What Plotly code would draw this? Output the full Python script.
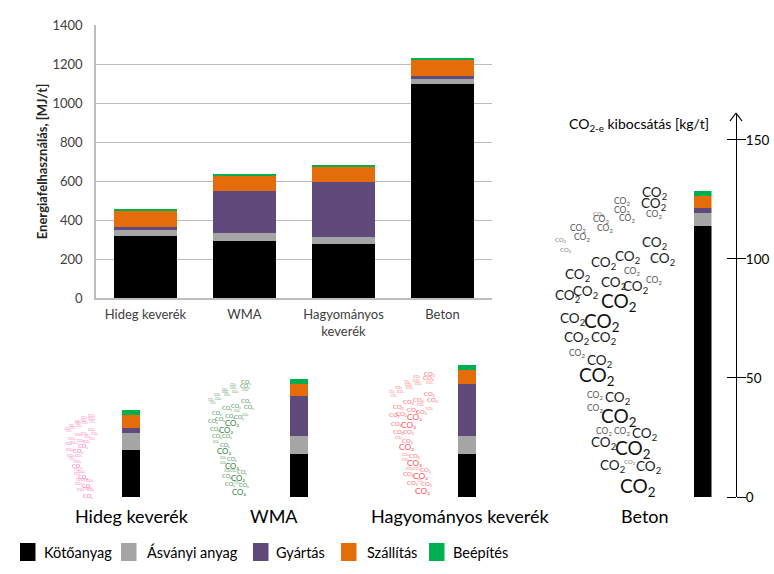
import plotly.graph_objects as go

WIDTH, HEIGHT = 774, 574
FONT = "Lato"

series_names = ["Kötőanyag", "Ásványi anyag", "Gyártás", "Szállítás", "Beépítés"]
series_colors = ["#000000", "#A5A5A5", "#604A7B", "#E46C0A", "#00B050"]

categories = ["Hideg keverék", "WMA", "Hagyományos<br>keverék", "Beton"]
energy_kotoanyag = [316, 294, 277, 1097]
energy_asvanyi = [34, 39, 37, 28]
energy_gyartas = [16, 214, 279, 13]
energy_szallitas = [83, 82, 77, 86]
energy_beepites = [5, 7, 11, 5]
energy_ticks = [0, 200, 400, 600, 800, 1000, 1200, 1400]

co2_kotoanyag = [19.7, 18.0, 18.0, 113.9]
co2_asvanyi = [7.1, 7.5, 7.5, 5.5]
co2_gyartas = [2.2, 16.8, 21.8, 2.1]
co2_szallitas = [5.4, 5.0, 5.9, 5.0]
co2_beepites = [2.1, 2.1, 2.1, 2.1]
co2_ticks = [0, 50, 100, 150]
mix_labels = ["Hideg keverék", "WMA", "Hagyományos keverék", "Beton"]

energy = [energy_kotoanyag, energy_asvanyi, energy_gyartas, energy_szallitas, energy_beepites]
co2 = [co2_kotoanyag, co2_asvanyi, co2_gyartas, co2_szallitas, co2_beepites]

def px(x):
    return x / WIDTH

def py(y):
    return 1 - y / HEIGHT

fig = go.Figure()

# main energy chart
for name, color, vals in zip(series_names, series_colors, energy):
    fig.add_bar(x=categories, y=vals, name=name, width=0.64, xaxis="x", yaxis="y",
                marker=dict(color=color, line=dict(width=0)), showlegend=False)

# CO2 bars: one narrow x axis each, sharing the CO2 value axis
mini_axes = ["x2", "x3", "x4", "x5"]
for i, ax in enumerate(mini_axes):
    for name, color, vals in zip(series_names, series_colors, co2):
        fig.add_bar(x=[mix_labels[i]], y=[vals[i]], name=name, width=1, xaxis=ax, yaxis="y2",
                    marker=dict(color=color, line=dict(width=0)), showlegend=False)

# inward half of the crossing ticks
fig.add_scatter(x=[mix_labels[3]], y=[0], xaxis="x5", yaxis="y3", mode="markers",
                marker=dict(opacity=0), showlegend=False, hoverinfo="skip")

GRID = "#BDBDBD"
layout = dict(
    width=WIDTH, height=HEIGHT, autosize=False,
    margin=dict(l=0, r=0, t=0, b=0, pad=0, autoexpand=False),
    paper_bgcolor="white", plot_bgcolor="rgba(0,0,0,0)",
    barmode="stack", bargap=0,
    font=dict(family=FONT, color="#000000"),
    xaxis=dict(domain=[px(96), px(492)], anchor="y", type="category", range=[-0.5, 3.5], automargin=False,
               showgrid=False, showline=True, linecolor=GRID, linewidth=1.5, ticks="",
               tickfont=dict(size=13, color="#404040"), ticklabelstandoff=4),
    yaxis=dict(domain=[py(298), py(25)], anchor="x", range=[0, 1400], tickvals=energy_ticks, automargin=False,
               showgrid=True, gridcolor=GRID, gridwidth=1.4, showline=True, linecolor=GRID, linewidth=1.5,
               ticks="", zeroline=False, tickfont=dict(size=13, color="#404040"), ticklabelstandoff=9,
               title=dict(text="<b>Energiafelhasználás, [MJ/t]</b>", standoff=2,
                          font=dict(size=13, color="#262626"))),
    yaxis2=dict(domain=[py(497), py(113)], range=[0, 161.3], anchor="free", position=px(736), side="right",
                automargin=False, tickvals=co2_ticks, ticks="outside", ticklen=9, tickwidth=1.2, tickcolor="#000",
                showgrid=False, zeroline=False, showline=True, linecolor="#000", linewidth=1.2,
                tickfont=dict(size=13.5, color="#000"), ticklabelstandoff=-3),
    yaxis3=dict(domain=[py(497), py(113)], range=[0, 161.3], anchor="free", position=px(736), side="left",
                automargin=False, tickvals=co2_ticks, ticks="outside", ticklen=9, tickwidth=1.2, tickcolor="#000",
                showticklabels=False, showgrid=False, zeroline=False, showline=False, overlaying="y2"),
)
for key, (a, b) in zip(["xaxis2", "xaxis3", "xaxis4", "xaxis5"], [(122, 140), (290, 308), (458, 476), (694, 711.5)]):
    layout[key] = dict(domain=[px(a), px(b)], anchor="y2", type="category", visible=False, automargin=False)
fig.update_layout(**layout)

annotations = []
shapes = []

def label(text, x, y, size, color="#000000", xanchor="center", opacity=1):
    annotations.append(dict(text=text, x=px(x), y=py(y), xref="paper", yref="paper", showarrow=False,
                            xanchor=xanchor, yanchor="middle", opacity=opacity,
                            font=dict(family=FONT, size=size, color=color)))

# footprint illustration: (x, y, size class) on the large footprint
footprint_words = [
    (654, 193, 2), (653, 204, 2), (654, 215, 1), (622, 201, 1), (622, 210, 1), (627, 219, 1),
    (599, 214, 0), (601, 220, 1), (605, 229, 1), (578, 229, 1), (582, 238, 1), (561, 240, 0),
    (566, 250, 0), (654, 243, 2), (662, 259, 2), (627, 257, 2), (603, 263, 2), (632, 271, 1),
    (577, 275, 2), (654, 280, 1), (613, 283, 2), (635, 287, 2), (585, 292, 2), (567, 296, 2),
    (618, 302, 3), (572, 319, 2), (601, 322, 3), (576, 338, 2), (603, 338, 2), (577, 353, 1),
    (599, 361, 2), (596, 376, 3), (595, 395, 1), (617, 398, 2), (595, 408, 1), (618, 417, 3),
    (604, 431, 1), (622, 431, 1), (644, 434, 2), (603, 443, 2), (632, 449, 3), (612, 466, 2),
    (630, 462, 0), (648, 467, 2), (637, 487, 3),
]
size_classes = [6, 8.5, 13.5, 19]
word_shades = ["#777777", "#555555", "#1a1a1a", "#111111"]

for (wx, wy, c) in footprint_words:
    label("CO<sub>2</sub>", wx, wy, size_classes[c], word_shades[c])

# small coloured footprints: scale and placement of the same outline
origin = (556, 497)
small_prints = [(66, 498, 0.27, "#FF66B2"), (209, 496, 0.375, "#2E8038"), (390, 495, 0.40, "#FF4F58")]
for (ox, oy, s, col) in small_prints:
    for (wx, wy, c) in footprint_words:
        label("CO₂", ox + (wx - origin[0]) * s, oy + (wy - origin[1]) * s,
              max(3.2, size_classes[c] * s * 1.1), col, opacity=0.7 + 0.1 * c)

# captions
label("CO<sub>2-e</sub> kibocsátás [kg/t]", 639, 124, 14)
label(mix_labels[0], 132, 516, 18)
label(mix_labels[1], 274, 516, 18)
label(mix_labels[2], 460, 516, 18)
label(mix_labels[3], 645, 516, 18)

# legend
swatch_x = [20, 121, 253, 341, 429]
text_x = [42, 145, 274, 365, 451]
for name, color, sx, tx in zip(series_names, series_colors, swatch_x, text_x):
    shapes.append(dict(type="rect", xref="paper", yref="paper", x0=px(sx), x1=px(sx + 15.5), y0=py(561), y1=py(543),
                       fillcolor=color, line=dict(width=0)))
    label(name, tx, 552, 14.5, xanchor="left")

# arrow head on the CO2 axis
for dx in (-6, 6):
    shapes.append(dict(type="line", xref="paper", yref="paper", x0=px(736), y0=py(113), x1=px(736 + dx), y1=py(121),
                       line=dict(color="#000", width=1.2)))

fig.update_layout(annotations=annotations, shapes=shapes)
fig.write_html("out.html", config={"displayModeBar": False},
               post_script="document.body.style.margin='0';document.documentElement.style.overflow='hidden';")
